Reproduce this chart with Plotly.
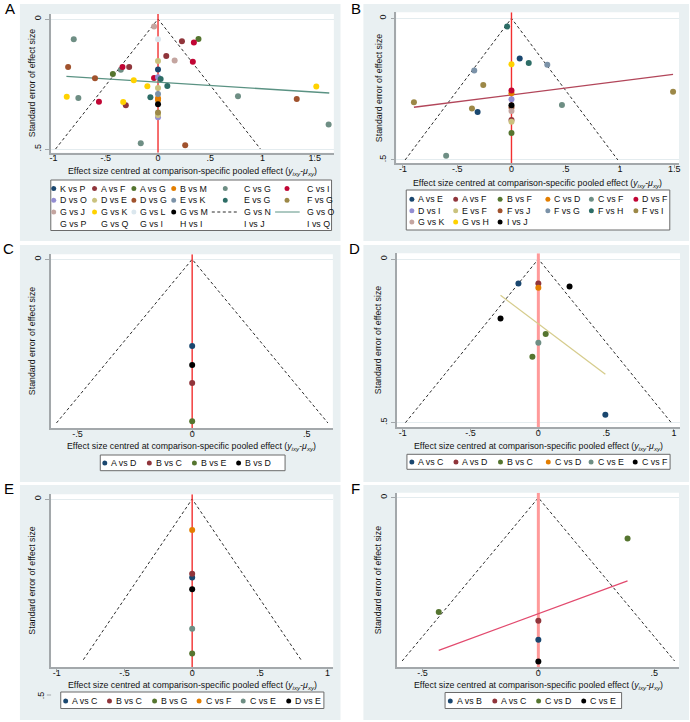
import plotly.graph_objects as go

W, H = 690, 722

# ---------------------------------------------------------------- data
A_comparisons = ["K vs P", "A vs F", "A vs G", "B vs M", "C vs G", "C vs I", "D vs O", "D vs E",
                 "D vs G", "E vs K", "E vs G", "F vs G", "G vs J", "G vs K", "G vs L", "G vs M"]
A_legend_labels = A_comparisons + ["G vs N", "G vs O", "G vs P", "G vs Q", "G vs I", "H vs I", "I vs J", "I vs Q"]
A_point_comp = ["G vs J", "C vs G", "G vs L", "A vs F", "C vs I", "A vs G", "A vs F", "G vs J", "C vs I",
                "D vs E", "D vs G", "C vs G", "C vs I", "A vs F", "A vs G", "K vs P", "D vs G", "G vs K",
                "C vs I", "D vs O", "E vs G", "G vs K", "D vs E", "E vs G", "G vs K", "C vs G", "C vs I",
                "E vs G", "E vs K", "B vs M", "B vs M", "G vs M", "G vs K", "A vs F", "F vs G", "D vs E",
                "D vs O", "C vs G", "D vs G", "G vs K", "C vs G", "C vs G", "D vs G"]
A_point_effect = [-0.038, -0.806, 0, 0.229, 0.343, 0.387, 0.079, 0.159, 0.333, 0, -0.86, -0.356, -0.34,
                  -0.276, -0.432, 0, -0.603, -0.232, -0.038, 0, 0.025, -0.102, 0, 0.089, -0.873, -0.762,
                  -0.565, -0.073, 0, 0, 0, 0, -0.333, -0.308, 0, 0, 0, 0.765, 1.327, 1.514, 1.632, -0.165, 0.26]
A_point_se = [0.029, 0.078, 0.078, 0.086, 0.090, 0.077, 0.142, 0.160, 0.164, 0.162, 0.185, 0.195, 0.185,
              0.185, 0.212, 0.194, 0.228, 0.236, 0.227, 0.224, 0.231, 0.259, 0.265, 0.258, 0.299, 0.304,
              0.318, 0.301, 0.288, 0.305, 0.312, 0.328, 0.319, 0.332, 0.360, 0.369, 0.378, 0.297, 0.308,
              0.260, 0.406, 0.478, 0.486]
A_reg_effect = [-0.876, 1.638]
A_reg_se = [0.2205, 0.2846]
A_se_max = 0.5
A_xticks = [-1, -0.5, 0, 0.5, 1, 1.5]
A_xticklabels = ["-1", "-.5", "0", ".5", "1", "1.5"]
A_yticks = [0, 0.5]
A_yticklabels = ["0", ".5"]

B_comparisons = ["A vs E", "A vs F", "B vs F", "C vs D", "C vs F", "D vs F", "D vs I", "E vs F",
                 "F vs J", "F vs G", "F vs H", "F vs I", "G vs K", "G vs H", "I vs J"]
B_point_comp = ["F vs H", "A vs E", "F vs H", "F vs G", "G vs H", "F vs G", "F vs I", "D vs F", "C vs D",
                "F vs I", "F vs I", "D vs I", "F vs I", "A vs E", "I vs J", "F vs J", "G vs K", "C vs F",
                "A vs F", "E vs F", "B vs F", "C vs F"]
B_point_effect = [-0.04, 0.076, 0.159, 0.330, 0, -0.343, -0.26, 0, 0, -0.899, 1.489, 0, -0.364, -0.312,
                  0, 0, 0, 0.465, 0, 0, 0, -0.602]
B_point_se = [0.029, 0.142, 0.158, 0.164, 0.162, 0.184, 0.235, 0.255, 0.265, 0.296, 0.259, 0.286, 0.318,
              0.331, 0.307, 0.315, 0.327, 0.306, 0.359, 0.365, 0.405, 0.485]
B_reg_effect = [-0.899, 1.489]
B_reg_se = [0.314, 0.198]
B_se_max = 0.5
B_xticks = [-1, -0.5, 0, 0.5, 1, 1.5]
B_xticklabels = ["-1", "-.5", "0", ".5", "1", "1.5"]
B_yticks = [0, 0.5]
B_yticklabels = ["0", ".5"]

C_comparisons = ["A vs D", "B vs C", "B vs E", "B vs D"]
C_point_comp = ["A vs D", "B vs D", "B vs C", "B vs E"]
C_point_effect = [0, 0, 0, 0]
C_point_se = [0.160, 0.195, 0.228, 0.299]
C_se_max = 0.302
C_xticks = [-0.5, 0, 0.5]
C_xticklabels = ["-.5", "0", ".5"]
C_yticks = [0]
C_yticklabels = ["0"]

D_comparisons = ["A vs C", "A vs D", "B vs C", "C vs D", "C vs E", "C vs F"]
D_point_comp = ["A vs C", "A vs D", "C vs D", "C vs F", "C vs F", "B vs C", "C vs E", "B vs C", "A vs C"]
D_point_effect = [-0.147, 0, 0, 0.230, -0.279, 0.054, 0, -0.044, 0.494]
D_point_se = [0.075, 0.075, 0.088, 0.084, 0.182, 0.229, 0.256, 0.299, 0.476]
D_reg_effect = [-0.279, 0.494]
D_reg_se = [0.111, 0.352]
D_se_max = 0.5
D_xticks = [-1, -0.5, 0, 0.5, 1]
D_xticklabels = ["-1", "-.5", "0", ".5", "1"]
D_yticks = [0, 0.5]
D_yticklabels = ["0", ".5"]

E_comparisons = ["A vs C", "B vs C", "B vs G", "C vs F", "C vs E", "D vs E"]
E_point_comp = ["C vs F", "B vs C", "A vs C", "D vs E", "C vs E", "B vs G"]
E_point_effect = [0, 0, 0, 0, 0, 0]
E_point_se = [0.079, 0.191, 0.200, 0.230, 0.331, 0.394]
E_se_max = 0.41
E_xticks = [-1, -0.5, 0, 0.5, 1]
E_xticklabels = ["-1", "-.5", "0", ".5", "1"]
E_yticks = [0, 0.5]
E_yticklabels = ["0", ".5"]

F_comparisons = ["A vs B", "A vs C", "C vs D", "C vs E"]
F_point_comp = ["C vs D", "C vs D", "A vs C", "A vs B", "C vs E"]
F_point_effect = [0.385, -0.430, 0, 0, 0]
F_point_se = [0.075, 0.210, 0.226, 0.261, 0.301]
F_reg_effect = [-0.43, 0.385]
F_reg_se = [0.2804, 0.153]
F_se_max = 0.3
F_xticks = [-0.5, 0, 0.5]
F_xticklabels = ["-.5", "0", ".5"]
F_yticks = [0]
F_yticklabels = ["0"]

Z_CRIT = 1.96  # pseudo 95% limits of the funnel
NULL_EFFECT = 0  # reference line at zero difference

# ---------------------------------------------------------------- styles
NAVY, MAROON, FOREST, DKORANGE = "#1a476f", "#90353b", "#55752f", "#e37e00"
TEAL, CRANBERRY, LAVENDER, KHAKI = "#6e8e84", "#c10534", "#938dd2", "#cac27e"
SIENNA, EMIDBLUE, EMERALD, BROWN = "#a0522d", "#7b92a8", "#2d6d66", "#9c8847"
EROSE, GOLD, BLUISHGRAY, BLACK = "#c4a5a0", "#ffd200", "#dbe7ee", "#000000"

A_colors = [NAVY, MAROON, FOREST, DKORANGE, TEAL, CRANBERRY, LAVENDER, KHAKI, SIENNA, EMIDBLUE,
            EMERALD, BROWN, EROSE, GOLD, BLUISHGRAY, BLACK]
B_colors = [NAVY, MAROON, FOREST, DKORANGE, TEAL, CRANBERRY, LAVENDER, KHAKI, SIENNA, EMIDBLUE,
            EMERALD, BROWN, EROSE, GOLD, BLACK]
C_colors = [NAVY, MAROON, FOREST, BLACK]
D_colors = [NAVY, MAROON, FOREST, DKORANGE, TEAL, BLACK]
E_colors = [NAVY, MAROON, FOREST, DKORANGE, TEAL, BLACK]
F_colors = [NAVY, MAROON, FOREST, BLACK]

FONT = "Liberation Sans, Arial, sans-serif"
PANEL_BG = "#e9f0f2"
AXIS_COL = "#a3a8ab"
GRID_COL = "#e4ecef"
FUNNEL_COL = "#2b2b2b"
THIN_RED = ("#f23030", 1.4)
THICK_RED = ("#ff9a9a", 3)
TXT = 8.8

XTITLE = "Effect size centred at comparison-specific pooled effect (<i>y<sub>ixy</sub></i>-<i>μ<sub>xy</sub></i>)"
YTITLE = "Standard error of effect size"


def X(px):
    return px / W


def Y(py):
    return 1 - py / H


panels = [
    dict(tag="A", comps=A_comparisons, labels=A_legend_labels, colors=A_colors,
         pc=A_point_comp, pe=A_point_effect, ps=A_point_se, reg=(A_reg_effect, A_reg_se), reg_color="#5a9283",
         se_max=A_se_max, xt=(A_xticks, A_xticklabels), yt=(A_yticks, A_yticklabels),
         plot=(49.3, 333.3, 14, 152.7), y0px=19, ypx=260, x0px=156.7, xpx=105,
         gray=(18, 340, 4, 241), label=(8, 9), xtitle_y=171.5, ytitle_x=30, red=THIN_RED,
         legend=dict(box=(49, 331, 180, 230.5), rows=[188.5, 200.3, 212, 223.7],
                     keys=[52, 93, 132.5, 172.5, 224.3, 286.3], texts=[57.5, 98.5, 138, 178, 241.7, 305],
                     lines={16: (210.7, 236.7, "dash"), 17: (274.3, 299, "solid")})),
    dict(tag="B", comps=B_comparisons, labels=B_comparisons, colors=B_colors,
         pc=B_point_comp, pe=B_point_effect, ps=B_point_se, reg=(B_reg_effect, B_reg_se), reg_color="#b2465a",
         se_max=B_se_max, xt=(B_xticks, B_xticklabels), yt=(B_yticks, B_yticklabels),
         plot=(396, 680, 12.3, 163.3), y0px=18.3, ypx=283.3, x0px=511.7, xpx=109,
         gray=(363, 690, 4, 241), label=(356, 8), xtitle_y=183, ytitle_x=378, red=THIN_RED,
         legend=dict(box=(406, 670.7, 190, 230), rows=[199.3, 210.7, 222],
                     keys=[411.7, 455.7, 500.3, 548.3, 592, 636.7], texts=None, lines={})),
    dict(tag="C", comps=C_comparisons, labels=C_comparisons, colors=C_colors,
         pc=C_point_comp, pe=C_point_effect, ps=C_point_se, reg=None, reg_color=None,
         se_max=C_se_max, xt=(C_xticks, C_xticklabels), yt=(C_yticks, C_yticklabels),
         plot=(49.3, 332.3, 254.3, 428.3), y0px=259.3, ypx=542, x0px=191, xpx=230.3,
         gray=(18, 340, 245, 482), label=(7, 249), xtitle_y=446.5, ytitle_x=30, red=THIN_RED,
         legend=dict(box=(98.7, 284.3, 455, 470.7), rows=[463],
                     keys=[103.3, 148, 193.3, 237.7], texts=None, lines={})),
    dict(tag="D", comps=D_comparisons, labels=D_comparisons, colors=D_colors,
         pc=D_point_comp, pe=D_point_effect, ps=D_point_se, reg=(D_reg_effect, D_reg_se), reg_color="#d6cc8c",
         se_max=D_se_max, xt=(D_xticks, D_xticklabels), yt=(D_yticks, D_yticklabels),
         plot=(396.7, 681, 253.3, 427.3), y0px=259, ypx=327.3, x0px=538.7, xpx=136.2,
         gray=(363, 690, 245, 482), label=(354, 248), xtitle_y=446, ytitle_x=377.5, red=THICK_RED,
         legend=dict(box=(406.7, 671, 454.3, 469.3), rows=[462],
                     keys=[411.7, 456, 500.7, 548.7, 591.7, 636], texts=None, lines={})),
    dict(tag="E", comps=E_comparisons, labels=E_comparisons, colors=E_colors,
         pc=E_point_comp, pe=E_point_effect, ps=E_point_se, reg=None, reg_color=None,
         se_max=E_se_max, xt=(E_xticks, E_xticklabels), yt=(E_yticks, E_yticklabels),
         plot=(49.3, 332.7, 494.3, 667.3), y0px=499, ypx=392, x0px=191, xpx=136,
         gray=(18, 340, 485, 720), label=(7, 488), xtitle_y=685.5, ytitle_x=30, red=THIN_RED,
         legend=dict(box=(59, 323.3, 692, 708.5), rows=[701],
                     keys=[64, 108, 153.3, 198, 242.3, 288], texts=None, lines={})),
    dict(tag="F", comps=F_comparisons, labels=F_comparisons, colors=F_colors,
         pc=F_point_comp, pe=F_point_effect, ps=F_point_se, reg=(F_reg_effect, F_reg_se), reg_color="#e24a6e",
         se_max=F_se_max, xt=(F_xticks, F_xticklabels), yt=(F_yticks, F_yticklabels),
         plot=(396.7, 680, 492.7, 667.3), y0px=497.7, ypx=544.3, x0px=538.7, xpx=232.7,
         gray=(363, 690, 485, 720), label=(355, 488), xtitle_y=685.5, ytitle_x=378, red=THICK_RED,
         legend=dict(box=(445, 622.3, 692.5, 708.5), rows=[701],
                     keys=[450.3, 495, 539, 584.3], texts=None, lines={})),
]

fig = go.Figure()
shapes_below, shapes_above, annotations = [], [], []
layout = {}

for i, p in enumerate(panels):
    n = i + 1
    sfx = "" if n == 1 else str(n)
    xr, yr = "x" + sfx, "y" + sfx
    l, r, t, b = p["plot"]

    # axis ranges derived from pixel geometry of the panel
    xmin = (l - p["x0px"]) / p["xpx"]
    xmax = (r - p["x0px"]) / p["xpx"]
    ytop = (t - p["y0px"]) / p["ypx"]
    ybot = (b - p["y0px"]) / p["ypx"]

    layout["xaxis" + sfx] = dict(
        domain=[X(l), X(r)], range=[xmin, xmax], anchor=yr,
        tickmode="array", tickvals=p["xt"][0], ticktext=p["xt"][1],
        ticks="outside", ticklen=3, tickwidth=1, tickcolor=AXIS_COL, ticklabelstandoff=-7,
        showline=True, linecolor=AXIS_COL, linewidth=1.5,
        showgrid=False, zeroline=False,
        tickfont=dict(size=9, color="#111", family=FONT), fixedrange=True)
    layout["yaxis" + sfx] = dict(
        domain=[Y(b), Y(t)], range=[ybot, ytop], anchor=xr,
        tickmode="array", tickvals=p["yt"][0], ticktext=p["yt"][1], tickangle=-90,
        ticks="outside", ticklen=4, tickwidth=1, tickcolor=AXIS_COL, ticklabelstandoff=1,
        showline=True, linecolor=AXIS_COL, linewidth=1.5,
        showgrid=True, gridcolor=GRID_COL, gridwidth=1, zeroline=False,
        tickfont=dict(size=9, color="#111", family=FONT), fixedrange=True)

    # panel background and plot region
    gl, gr, gt, gb = p["gray"]
    shapes_below.append(dict(type="rect", xref="paper", yref="paper", x0=X(gl), x1=X(gr), y0=Y(gb), y1=Y(gt),
                             fillcolor=PANEL_BG, line=dict(width=0), layer="below"))
    shapes_below.append(dict(type="rect", xref=xr + " domain", yref=yr + " domain", x0=0, x1=1, y0=0, y1=1,
                             fillcolor="white", line=dict(width=0), layer="below"))

    # funnel (pseudo 95% limits)
    sm = p["se_max"]
    fig.add_trace(go.Scatter(x=[-Z_CRIT * sm, 0, Z_CRIT * sm], y=[sm, 0, sm], mode="lines",
                             line=dict(color=FUNNEL_COL, width=1, dash="3px,2.5px"),
                             xaxis=xr, yaxis=yr, showlegend=False, hoverinfo="skip"))
    # null-effect reference line over the full plot height
    red_col, red_w = p["red"]
    fig.add_trace(go.Scatter(x=[NULL_EFFECT, NULL_EFFECT], y=[ytop, ybot], mode="lines",
                             line=dict(color=red_col, width=red_w),
                             xaxis=xr, yaxis=yr, showlegend=False, hoverinfo="skip"))
    # regression line
    if p["reg"] is not None:
        fig.add_trace(go.Scatter(x=p["reg"][0], y=p["reg"][1], mode="lines",
                                 line=dict(color=p["reg_color"], width=1.3),
                                 xaxis=xr, yaxis=yr, showlegend=False, hoverinfo="skip"))
    # points per comparison
    for comp, col in zip(p["comps"], p["colors"]):
        xs = [e for c, e in zip(p["pc"], p["pe"]) if c == comp]
        ys = [s for c, s in zip(p["pc"], p["ps"]) if c == comp]
        if not xs:
            continue
        fig.add_trace(go.Scatter(x=xs, y=ys, mode="markers", name=comp,
                                 marker=dict(color=col, size=6, line=dict(width=0)),
                                 xaxis=xr, yaxis=yr, showlegend=False, cliponaxis=False))

    # panel letter
    annotations.append(dict(text=p["tag"], x=X(p["label"][0]), y=Y(p["label"][1]), xref="paper", yref="paper",
                            showarrow=False, xanchor="center", yanchor="middle",
                            font=dict(size=15, color="#000", family=FONT)))
    # axis titles
    annotations.append(dict(text=XTITLE, x=X((l + r) / 2), y=Y(p["xtitle_y"]), xref="paper", yref="paper",
                            showarrow=False, xanchor="center", yanchor="middle",
                            font=dict(size=TXT, color="#111", family=FONT)))
    annotations.append(dict(text=YTITLE, x=X(p["ytitle_x"]), y=Y((t + b) / 2), xref="paper", yref="paper",
                            showarrow=False, xanchor="center", yanchor="middle", textangle=-90,
                            font=dict(size=TXT, color="#111", family=FONT)))

    # legend (key box)
    lg = p["legend"]
    bl, br, bt, bb = lg["box"]
    shapes_above.append(dict(type="rect", xref="paper", yref="paper", x0=X(bl), x1=X(br), y0=Y(bb), y1=Y(bt),
                             fillcolor="white", line=dict(color="#6b6b6b", width=1), layer="below"))
    ncol = len(lg["keys"])
    for k, lab in enumerate(p["labels"]):
        row, colno = divmod(k, ncol)
        ry = lg["rows"][row]
        kx = lg["keys"][colno]
        tx = lg["texts"][colno] if lg["texts"] else kx + 5.5
        if k < len(p["colors"]):
            rad = 2.5
            shapes_above.append(dict(type="circle", xref="paper", yref="paper",
                                     x0=X(kx - rad), x1=X(kx + rad), y0=Y(ry + rad), y1=Y(ry - rad),
                                     fillcolor=p["colors"][k], line=dict(width=0), layer="above"))
        elif k in lg["lines"]:
            x0l, x1l, dsh = lg["lines"][k]
            lc = FUNNEL_COL if dsh == "dash" else p["reg_color"]
            shapes_above.append(dict(type="line", xref="paper", yref="paper", x0=X(x0l), x1=X(x1l),
                                     y0=Y(ry), y1=Y(ry), layer="above",
                                     line=dict(color=lc, width=1, dash="3px,2.5px" if dsh == "dash" else "solid")))
        annotations.append(dict(text=lab, x=X(tx - 1), y=Y(ry), xref="paper", yref="paper", showarrow=False,
                                xanchor="left", yanchor="middle", font=dict(size=TXT, color="#111", family=FONT)))

# panel E shows its ".5" y-label below the plot region (outside the axis range, so placed in paper space)
pE = panels[4]
e_half_px = pE["y0px"] + pE["ypx"] * E_yticks[1]
annotations.append(dict(text=E_yticklabels[1], x=X(39.5), y=Y(e_half_px), xref="paper", yref="paper",
                        showarrow=False, xanchor="center", yanchor="middle", textangle=-90,
                        font=dict(size=9, color="#111", family=FONT)))
shapes_above.append(dict(type="line", xref="paper", yref="paper", x0=X(45), x1=X(49.3),
                         y0=Y(e_half_px), y1=Y(e_half_px),
                         line=dict(color=AXIS_COL, width=1), layer="above"))

fig.update_layout(
    width=W, height=H, margin=dict(l=0, r=0, t=0, b=0),
    paper_bgcolor="white", plot_bgcolor="white", showlegend=False,
    font=dict(family=FONT, size=9, color="#111"),
    shapes=shapes_below + shapes_above, annotations=annotations,
    **layout)

fig.write_html("out.html")
